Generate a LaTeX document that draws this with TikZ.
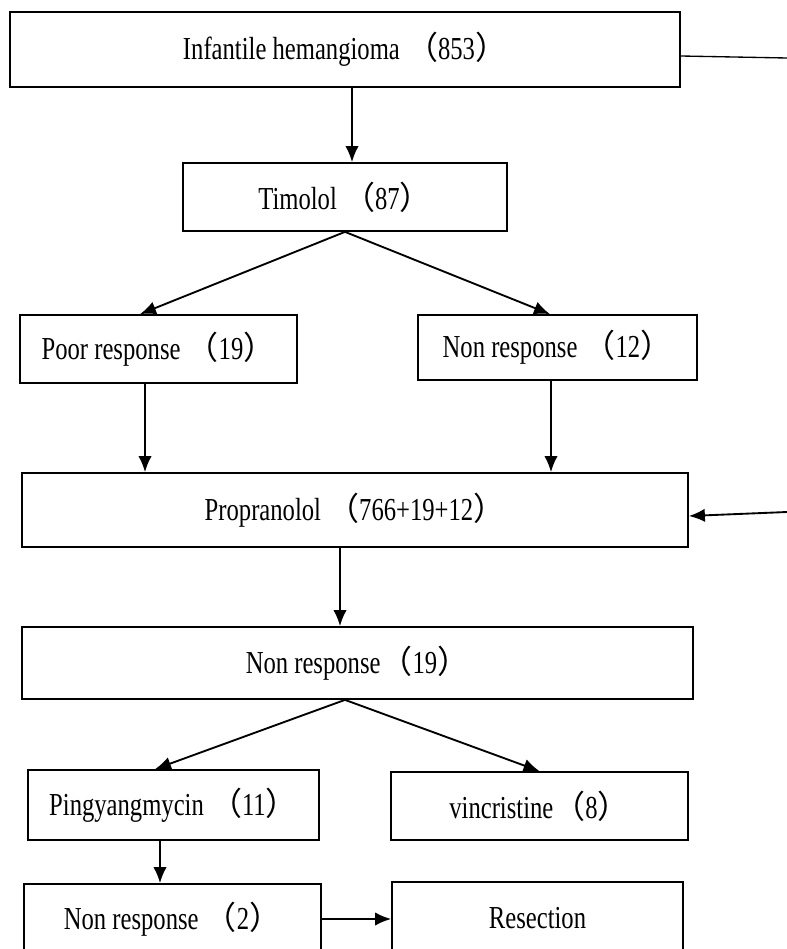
\documentclass[tikz,border=0pt]{standalone}
\usepackage{fontspec}
\setmainfont{Liberation Serif}[FakeStretch=0.77]
\newfontfamily\cjk{Noto Sans CJK SC}
\usetikzlibrary{arrows.meta}

\begin{document}
\begin{tikzpicture}[x=0.75pt,y=-0.75pt]
\tikzset{
block/.style={rectangle,draw=black,line width=1.3pt,inner sep=0pt,font=\fontsize{24}{27}\selectfont},
myarrow/.style={-{Latex[length=12pt,width=10pt]}, line width=1.4pt},
myline/.style={line width=1pt},
}
\clip (0,0) rectangle (787,949);

\node [block, minimum width=670*0.75pt, minimum height=75*0.75pt] (hemangioma) at (345,49.5) {Infantile hemangioma {\cjk （}853{\cjk ）}};
\node [block, minimum width=324*0.75pt, minimum height=68*0.75pt] (timolol) at (345,197) {Timolol {\cjk （}87{\cjk ）}};
\node [block, minimum width=277*0.75pt, minimum height=68*0.75pt] (poor) at (158.5,349) {Poor response {\cjk （}19{\cjk ）}};
\node [block, minimum width=279*0.75pt, minimum height=65*0.75pt] (nonresp12) at (557.5,347.5) {Non response {\cjk （}12{\cjk ）}};
\node [block, minimum width=666*0.75pt, minimum height=74*0.75pt] (propranolol) at (355,510) {Propranolol {\cjk （}766+19+12{\cjk ）}};
\node [block, minimum width=671*0.75pt, minimum height=72*0.75pt] (nonresp19) at (357.5,663) {Non response{\cjk （}19{\cjk ）}};
\node [block, minimum width=291*0.75pt, minimum height=70*0.75pt] (pingyang) at (173.5,805) {Pingyangmycin {\cjk （}11{\cjk ）}};
\node [block, minimum width=297*0.75pt, minimum height=68*0.75pt] (vincristine) at (539.5,806) {vincristine{\cjk （}8{\cjk ）}};
\node [block, minimum width=297*0.75pt, minimum height=70*0.75pt] (nonresp2) at (172.5,919) {Non response {\cjk （}2{\cjk ）}};
\node [block, minimum width=291*0.75pt, minimum height=72*0.75pt] (resection) at (537.5,918) {Resection};

\coordinate (outtop) at (787,58);
\coordinate (outmid) at (787,512);

\draw[myline] (hemangioma.east |- 0,56) -- (outtop);
\draw[myarrow] (outmid) -- (propranolol.east |- 0,516);
\draw[myarrow] ([xshift=7*0.75pt]hemangioma.south) -- ([xshift=7*0.75pt]timolol.north);
\draw[myarrow] (timolol.south) -- ([xshift=-18.5*0.75pt]poor.north);
\draw[myarrow] (timolol.south) -- ([xshift=-7.5*0.75pt]nonresp12.north);
\draw[myarrow] ([xshift=-13.5*0.75pt]poor.south) -- ([xshift=-13.5*0.75pt]poor.south |- propranolol.north);
\draw[myarrow] ([xshift=-6.5*0.75pt]nonresp12.south) -- ([xshift=-6.5*0.75pt]nonresp12.south |- propranolol.north);
\draw[myarrow] ([xshift=-15*0.75pt]propranolol.south) -- ([xshift=-15*0.75pt]propranolol.south |- nonresp19.north);
\draw[myarrow] ([xshift=-12.5*0.75pt]nonresp19.south) -- ([xshift=-18.5*0.75pt]pingyang.north);
\draw[myarrow] ([xshift=-12.5*0.75pt]nonresp19.south) -- (vincristine.north);
\draw[myarrow] ([xshift=-13.5*0.75pt]pingyang.south) -- ([xshift=-13.5*0.75pt]pingyang.south |- nonresp2.north);
\draw[myarrow] (nonresp2.east) -- (nonresp2.east -| resection.west);
\end{tikzpicture}
\end{document}
